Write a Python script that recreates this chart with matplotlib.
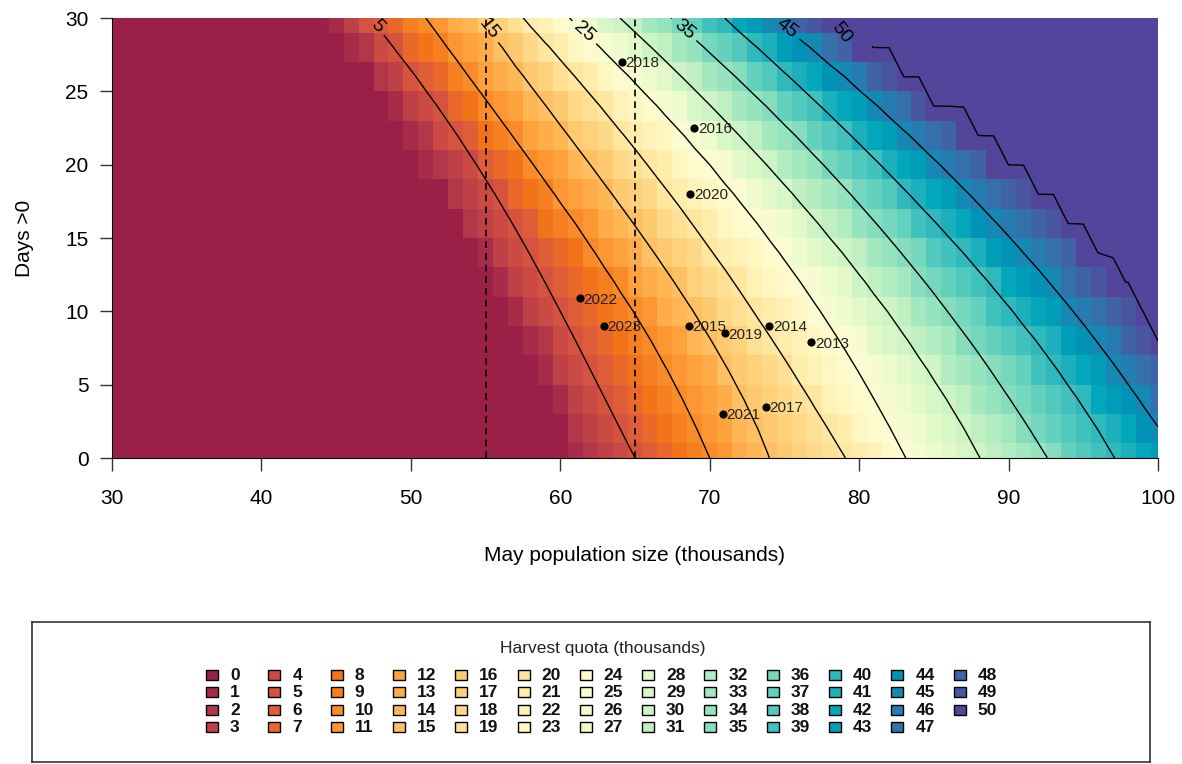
import numpy as np
import matplotlib.pyplot as plt
from matplotlib.colors import ListedColormap, BoundaryNorm
from matplotlib.patches import Rectangle

plt.rcParams['font.family'] = ['Liberation Sans', 'DejaVu Sans']

# quota levels and the population size (thousands) where each level is reached,
# read along four rows of days >0
levels = [0, 5, 10, 15, 20, 25, 30, 35, 40, 45, 50]
anchor_days = [0, 10, 20, 30]
x_day0 = [60.5, 65.0, 70.0, 74.0, 79.1, 83.1, 88.1, 92.6, 97.1, 101.4, 103.5]
x_day10 = [56.0, 60.0, 64.9, 68.9, 72.9, 77.4, 81.9, 85.9, 90.3, 94.3, 98.6]
x_day20 = [50.5, 54.4, 58.2, 62.0, 65.8, 70.0, 73.8, 77.6, 81.4, 85.4, 89.4]
x_day30 = [44.3, 47.2, 51.0, 54.7, 57.5, 60.6, 64.0, 67.4, 71.0, 74.3, 77.6]

# observed years
years = ["2013", "2014", "2015", "2016", "2017", "2018", "2019", "2020", "2021", "2022", "2023"]
may_pop = [76.8, 74.0, 68.6, 68.97, 73.75, 64.1, 71.0, 68.7, 70.9, 61.3, 62.9]
days_pos = [7.9, 9.0, 9.0, 22.5, 3.5, 27.0, 8.5, 18.0, 3.0, 10.9, 9.0]


def polarluv_hex(L, C, H):
    # CIE polar LUV -> sRGB (D65), clipped into gamut
    h = np.deg2rad(H)
    U, V = C * np.cos(h), C * np.sin(h)
    Xn, Yn, Zn = 95.047, 100.0, 108.883
    Y = Yn * ((L + 16) / 116) ** 3 if L > 8 else Yn * L / 903.3
    t = Xn + Yn + Zn
    x, y = Xn / t, Yn / t
    un = 2 * x / (6 * y - x + 1.5)
    vn = 4.5 * y / (6 * y - x + 1.5)
    u = U / (13 * L) + un
    v = V / (13 * L) + vn
    X = 9.0 * Y * u / (4 * v)
    Z = -X / 3 - 5 * Y + 3 * Y / v
    X, Y, Z = X / 100, Y / 100, Z / 100
    rgb = np.array([3.240479 * X - 1.537150 * Y - 0.498535 * Z,
                    -0.969256 * X + 1.875992 * Y + 0.041556 * Z,
                    0.055648 * X - 0.204043 * Y + 1.057311 * Z])
    rgb = np.where(rgb <= 0.0031308, 12.92 * rgb, 1.055 * np.abs(rgb) ** (1 / 2.4) - 0.055)
    return tuple(np.clip(rgb, 0, 1))


def seq_part(i, h1, h2, c1, c2, l1, l2, p1, p2, cmax):
    j = 1 / (1 + abs(cmax - c1) / abs(cmax - c2)) if cmax is not None else None
    out = []
    for ii in i:
        ip = ii ** p1
        if j is None:
            C = c2 - (c2 - c1) * ip
        elif ip <= j:
            C = c2 - (c2 - cmax) * ip / j
        else:
            C = cmax - (cmax - c1) * (ip - j) / (1 - j)
        L = l2 - (l2 - l1) * ii ** p2
        H = h2 - (h2 - h1) * ii
        out.append(polarluv_hex(L, C, H))
    return out


def spectral_hcl(n):
    n2 = int(np.ceil(n / 2))
    i1 = 1 - 2 / (n - 1) * np.arange(n2)
    i2 = 1 - 2 / (n - 1) * np.arange(n - n2)
    first = seq_part(i1, 0, 85, 80, 30, 35, 98, 1.0, 1.5, 120)
    second = seq_part(i2, 270, 85, 65, 30, 35, 98, 1.0, 1.5, None)
    return first + second[::-1]


# model grid: 1 thousand wide, 2 days tall
pop_grid = np.arange(30, 101, 1)
day_grid = np.arange(0, 31, 2)

# smooth each level's position across days, then fill the rows between levels
anchors = np.array([x_day0, x_day10, x_day20, x_day30])
level_x = np.array([np.polyval(np.polyfit(anchor_days, anchors[:, k], 3), day_grid)
                    for k in range(len(levels))]).T
quota = np.zeros((len(day_grid), len(pop_grid)))
for i in range(len(day_grid)):
    quota[i] = np.interp(pop_grid, level_x[i], levels, left=0, right=50)

cols = spectral_hcl(51)
cmap = ListedColormap(cols)
norm = BoundaryNorm(np.arange(-0.5, 51.5, 1), 51)

fig = plt.figure(figsize=(11.82, 7.64), dpi=100)
ax = fig.add_axes([112 / 1182, 1 - 458 / 764, (1158 - 112) / 1182, (458 - 18) / 764])

ax.pcolormesh(pop_grid, day_grid, quota, cmap=cmap, norm=norm, shading='nearest')

# unlabelled and labelled contour lines
ax.contour(pop_grid, day_grid, quota, levels=[10, 20, 30, 40],
           colors='black', linewidths=1.0)
cs = ax.contour(pop_grid, day_grid, quota, levels=[5, 15, 25, 35, 45],
                colors='black', linewidths=1.0)
lab_pos = [(47.5, 29.2), (54.9, 29.0), (61.5, 28.9), (68.2, 29.1), (74.9, 28.95)]
ax.clabel(cs, manual=lab_pos, inline=True, fontsize=14, fmt=lambda v: f"{v:.0f}")

# the 50 line traces the edge of the plateau; its label sits above day 28
cs50 = ax.contour(pop_grid, day_grid, quota, levels=[49.99], colors='black', linewidths=1.0)
cs50.set_clip_path(Rectangle((30, 0), 70, 28.1, transform=ax.transData))
ax.text(78.8, 29.0, "50", rotation=-52, ha='center', va='center', fontsize=14)

ax.axvline(55, color='black', ls='--', lw=1.2, dashes=(4, 3))
ax.axvline(65, color='black', ls='--', lw=1.2, dashes=(4, 3))

ax.scatter(may_pop, days_pos, s=24, color='black', zorder=5)
for yr, px, dy in zip(years, may_pop, days_pos):
    ax.annotate(yr, (px, dy), xytext=(2.5, -1), textcoords='offset points',
                ha='left', va='center', fontsize=11, color='#222222')

ax.set_xlim(30, 100)
ax.set_ylim(0, 30)
ax.set_xticks(np.arange(30, 101, 10))
ax.set_yticks(np.arange(0, 31, 5))
ax.tick_params(labelsize=15, length=9, width=1, color='#333333')
ax.tick_params(axis='x', pad=13)
ax.tick_params(axis='y', pad=8)
for s in ['top', 'right']:
    ax.spines[s].set_visible(False)
for s in ['left', 'bottom']:
    ax.spines[s].set_linewidth(0.8)
ax.set_xlabel("May population size (thousands)", fontsize=15, labelpad=28)
ax.set_ylabel("Days >0", fontsize=15, labelpad=22)

# legend panel, laid out in pixel units
lax = fig.add_axes([32 / 1182, 1 - 762 / 764, (1150 - 32) / 1182, (762 - 622) / 764])
lax.set_xlim(32, 1150)
lax.set_ylim(762, 622)
lax.set_xticks([])
lax.set_yticks([])
for s in lax.spines.values():
    s.set_linewidth(1.2)
    s.set_color('#333333')

lax.text(603, 648, "Harvest quota (thousands)", ha='center', va='center', fontsize=12.5,
         color='#222222')
for q in range(51):
    c, r = divmod(q, 4)
    cx = 212 + 62.3 * c
    cy = 675 + 17.3 * r
    lax.add_patch(Rectangle((cx - 6, cy - 5), 12, 10, facecolor=cols[q],
                            edgecolor='black', lw=1.0))
    lax.text(cx + 18, cy + 0.5, str(q), ha='left', va='center', fontsize=12.5,
             fontweight='bold', color='#111111')

fig.savefig("out.png", dpi=100)
